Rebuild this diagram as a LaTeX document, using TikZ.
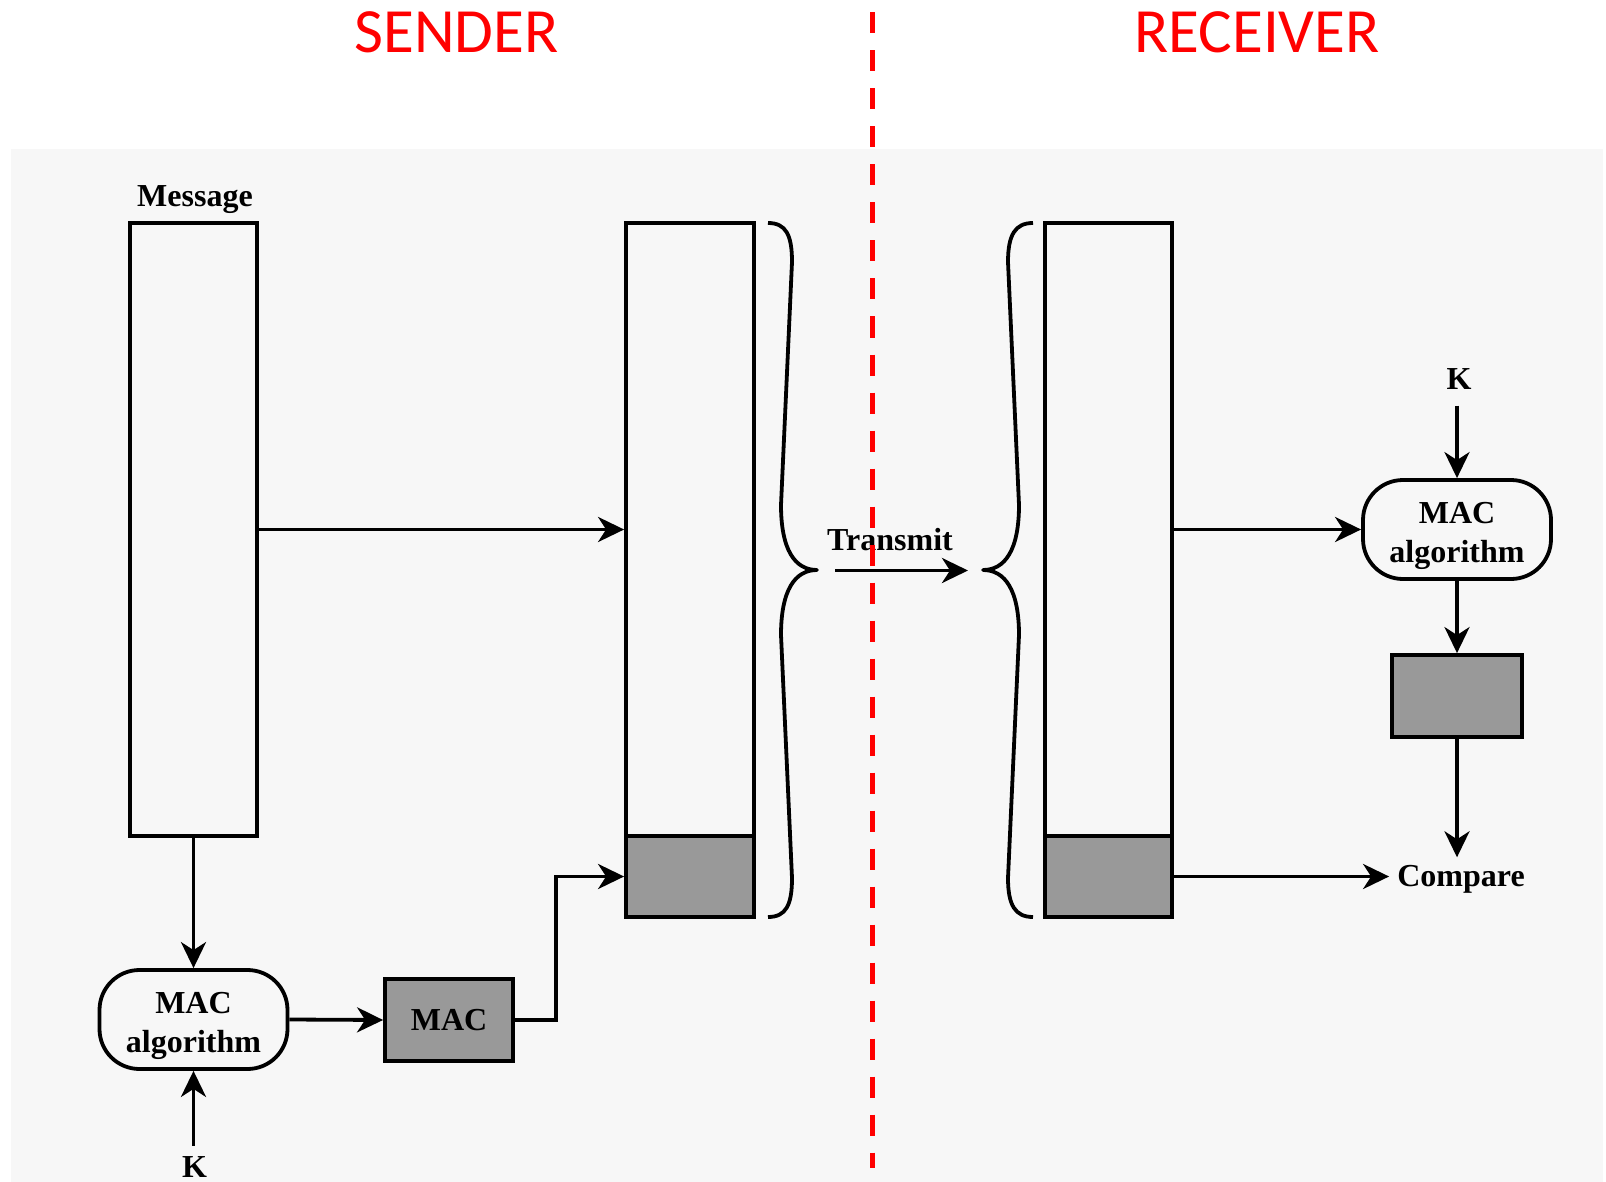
\documentclass[tikz,border=0pt]{standalone}
\usepackage{fontspec}
\setmainfont{Liberation Serif}
\newfontfamily\headfont{Carlito}
\newcommand\lblfnt{\bfseries\fontsize{32}{39}\selectfont}
\usetikzlibrary{arrows.meta}
\definecolor{bg}{HTML}{F7F7F7}
\definecolor{macgray}{HTML}{999999}
\begin{document}
\begin{tikzpicture}[x=1pt,y=-1pt,
  lw/.style={line width=3.8pt},
  >={Stealth[length=26pt,width=25pt,inset=8pt]},
  box/.style={draw, lw, inner sep=0pt},
  graybox/.style={box, fill=macgray},
  algbox/.style={draw, lw, rounded corners=40pt, minimum width=188pt, minimum height=99pt, inner sep=0pt},
  lbl/.style={font=\lblfnt},
  algtext/.style={font=\lblfnt, align=center, inner sep=0pt},
  head/.style={font=\headfont\fontsize{63}{70}\selectfont, text=red, anchor=base},
  conn/.style={lw, ->},
  brace/.style={lw, line join=round},
]
\useasboundingbox (0,0) rectangle (1606,1182);
\fill[bg] (11,149) rectangle (1603,1182);

% headings
\node[head] (snd) at (456.5,53) {SENDER};
\node[head] (rcv) at (1257,53) {RECEIVER};

% sender
\node[box, minimum width=127pt, minimum height=613pt] (msg) at (193.5,529.5) {};
\node[lbl, anchor=base] (msglbl) at (195,207) {Message};
\node[box, minimum width=128pt, minimum height=613pt] (sfw) at (690,529.5) {};
\node[graybox, minimum width=128pt, minimum height=81pt] (sfg) at (690,876.5) {};
\node[algbox] (salg) at (193.5,1019.5) {};
\node[algtext] (salgt) at ([shift={(0,6.5)}]salg.center) {MAC\\algorithm};
\node[graybox, lbl, minimum width=128pt, minimum height=82pt] (mac) at (449,1020) {MAC};
\node[lbl, inner sep=11pt] (ks) at (194.5,1167.5) {K};

\draw[conn] (msg.south) -- (salg.north);
\draw[conn] (msg.east) -- (sfw.west);
\draw[conn] (ks.north -| salg.south) -- (salg.south);
\draw[conn] (salg.east) -- (mac.west);
\draw[conn] (mac.east) -- ++(41,0) |- (sfg.west);

% braces
\draw[brace] (768,223) .. controls (786,223) and (792,235) .. (792,262)
  -- (781,505) .. controls (781,550) and (795,570) .. (817,570)
  .. controls (795,570) and (781,590) .. (781,635)
  -- (792,878) .. controls (792,905) and (786,917) .. (768,917);
\draw[brace] (1033,223) .. controls (1015,223) and (1008,235) .. (1008,262)
  -- (1019,505) .. controls (1019,550) and (1005,570) .. (983,570)
  .. controls (1005,570) and (1019,590) .. (1019,635)
  -- (1008,878) .. controls (1008,905) and (1015,917) .. (1033,917);

% transmit
\coordinate (tx1) at (835,570.5);
\coordinate (tx2) at (968,570.5);
\draw[conn] (tx1) -- (tx2);
\node[lbl, anchor=base] (txl) at (890,550) {Transmit};

% receiver
\node[box, minimum width=127pt, minimum height=613pt] (rfw) at (1108.5,529.5) {};
\node[graybox, minimum width=127pt, minimum height=81pt] (rfg) at (1108.5,876.5) {};
\node[algbox] (ralg) at (1457,529.5) {};
\node[algtext] (ralgt) at ([shift={(0,6.5)}]ralg.center) {MAC\\algorithm};
\node[lbl, inner sep=16pt] (kr) at (1459,379) {K};
\node[graybox, minimum width=130pt, minimum height=82pt] (rmac) at (1457,696) {};
\node[lbl, inner sep=8pt] (cmp) at (1461,879.5) {Compare};

\draw[conn] (rfw.east) -- (ralg.west);
\draw[conn] (kr.south -| ralg.north) -- (ralg.north);
\draw[conn] (ralg.south) -- (rmac.north);
\draw[conn] (rmac.south) -- (rmac.south |- cmp.north);
\draw[conn] (rfg.east) -- (rfg.east -| cmp.west);

% divider
\coordinate (d1) at (872,12.5);
\coordinate (d2) at (872,1168);
\draw[red, line width=5pt, dash pattern=on 21pt off 17pt] (d1) -- (d2);
\end{tikzpicture}
\end{document}
